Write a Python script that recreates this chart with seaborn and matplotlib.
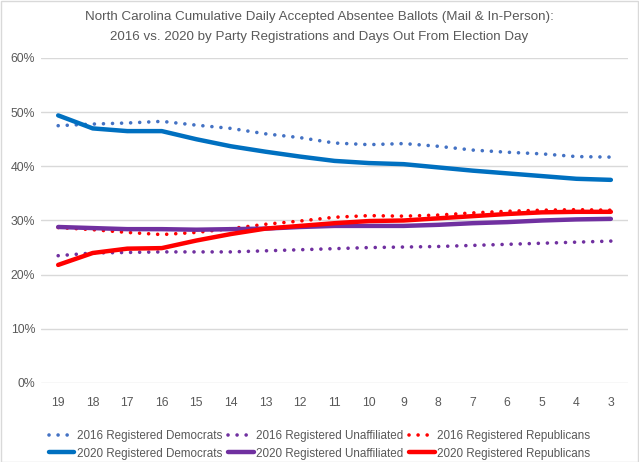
import matplotlib
matplotlib.use("Agg")
import matplotlib.pyplot as plt
import pandas as pd
import seaborn as sns
from matplotlib.patches import Rectangle
from matplotlib.ticker import PercentFormatter

days = ["19", "18", "17", "16", "15", "14", "13", "12", "11", "10", "9", "8", "7", "6", "5", "4", "3"]

dem_2016 = [47.5, 47.8, 48.0, 48.3, 47.6, 47.0, 46.0, 45.3, 44.3, 44.0, 44.2, 43.7, 43.0, 42.6, 42.3, 41.8, 41.7]
una_2016 = [23.5, 24.0, 24.1, 24.2, 24.2, 24.2, 24.4, 24.6, 24.8, 25.0, 25.1, 25.2, 25.4, 25.6, 25.8, 26.0, 26.2]
rep_2016 = [28.7, 28.3, 27.8, 27.4, 27.8, 28.5, 29.3, 29.9, 30.6, 30.9, 30.8, 31.0, 31.4, 31.7, 31.9, 32.0, 31.9]
dem_2020 = [49.4, 47.0, 46.5, 46.5, 45.0, 43.7, 42.7, 41.8, 41.0, 40.6, 40.4, 39.8, 39.2, 38.7, 38.2, 37.7, 37.5]
una_2020 = [28.8, 28.6, 28.4, 28.4, 28.3, 28.4, 28.5, 28.8, 29.0, 29.0, 29.0, 29.2, 29.5, 29.7, 30.0, 30.2, 30.3]
rep_2020 = [21.8, 24.0, 24.8, 24.9, 26.3, 27.5, 28.5, 29.0, 29.5, 29.9, 30.0, 30.4, 30.8, 31.2, 31.5, 31.6, 31.6]

series = [
    ("2016 Registered Democrats", dem_2016, "#4472C4", "dot"),
    ("2020 Registered Democrats", dem_2020, "#0070C0", "solid"),
    ("2016 Registered Unaffiliated", una_2016, "#7030A0", "dot"),
    ("2020 Registered Unaffiliated", una_2020, "#7030A0", "solid"),
    ("2016 Registered Republicans", rep_2016, "#FF0000", "dot"),
    ("2020 Registered Republicans", rep_2020, "#FF0000", "solid"),
]

sns.set_style("white")
plt.rcParams["font.family"] = ["Liberation Sans", "DejaVu Sans"]

fig = plt.figure(figsize=(6.39, 4.62), dpi=100)
ax = fig.add_axes([0.064, 0.171, 0.919, 0.7035])

# 2016 first, 2020 on top
draw_order = [0, 2, 4, 1, 3, 5]
for i in draw_order:
    name, vals, color, kind = series[i]
    df = pd.DataFrame({"day": days, "pct": vals})
    if kind == "dot":
        sns.lineplot(data=df, x="day", y="pct", ax=ax, color=color, linewidth=2.6,
                     linestyle=(0, (0.01, 2.5)), dash_capstyle="round", label=name, sort=False)
    else:
        sns.lineplot(data=df, x="day", y="pct", ax=ax, color=color, linewidth=3.2,
                     solid_capstyle="round", label=name, sort=False)

h, l = ax.get_legend_handles_labels()
lookup = dict(zip(l, h))
ax.get_legend().remove()

ax.set_xlim(-0.5, len(days) - 0.5)
ax.set_ylim(0, 60)
ax.set_yticks(range(0, 61, 10))
ax.yaxis.set_major_formatter(PercentFormatter(decimals=0))
ax.grid(axis="y", color="#D9D9D9", linewidth=1)
ax.grid(axis="x", visible=False)
ax.set_axisbelow(True)
for s in ax.spines.values():
    s.set_visible(False)
ax.set_xlabel("")
ax.set_ylabel("")
ax.tick_params(axis="both", length=0, labelsize=8.8, labelcolor="#595959")
ax.tick_params(axis="x", pad=10)
ax.tick_params(axis="y", pad=4)

fig.text(0.5, 0.963, "North Carolina Cumulative Daily Accepted Absentee Ballots (Mail & In-Person):",
         ha="center", va="center", fontsize=9.6, color="#595959")
fig.text(0.5, 0.92, "2016 vs. 2020 by Party Registrations and Days Out From Election Day",
         ha="center", va="center", fontsize=9.6, color="#595959")

names = [s[0] for s in series]
fig.legend([lookup[n] for n in names], names, ncol=3, loc="center",
           bbox_to_anchor=(0.5, 0.037), frameon=False, fontsize=8.4,
           labelcolor="#595959", handlelength=2.2, handletextpad=0.2,
           columnspacing=0.5, labelspacing=0.45, borderaxespad=0)

fig.add_artist(Rectangle((0.001, 0.001), 0.998, 0.997, transform=fig.transFigure,
                         fill=False, edgecolor="#D9D9D9", linewidth=1))

fig.savefig("out.png", dpi=100)
